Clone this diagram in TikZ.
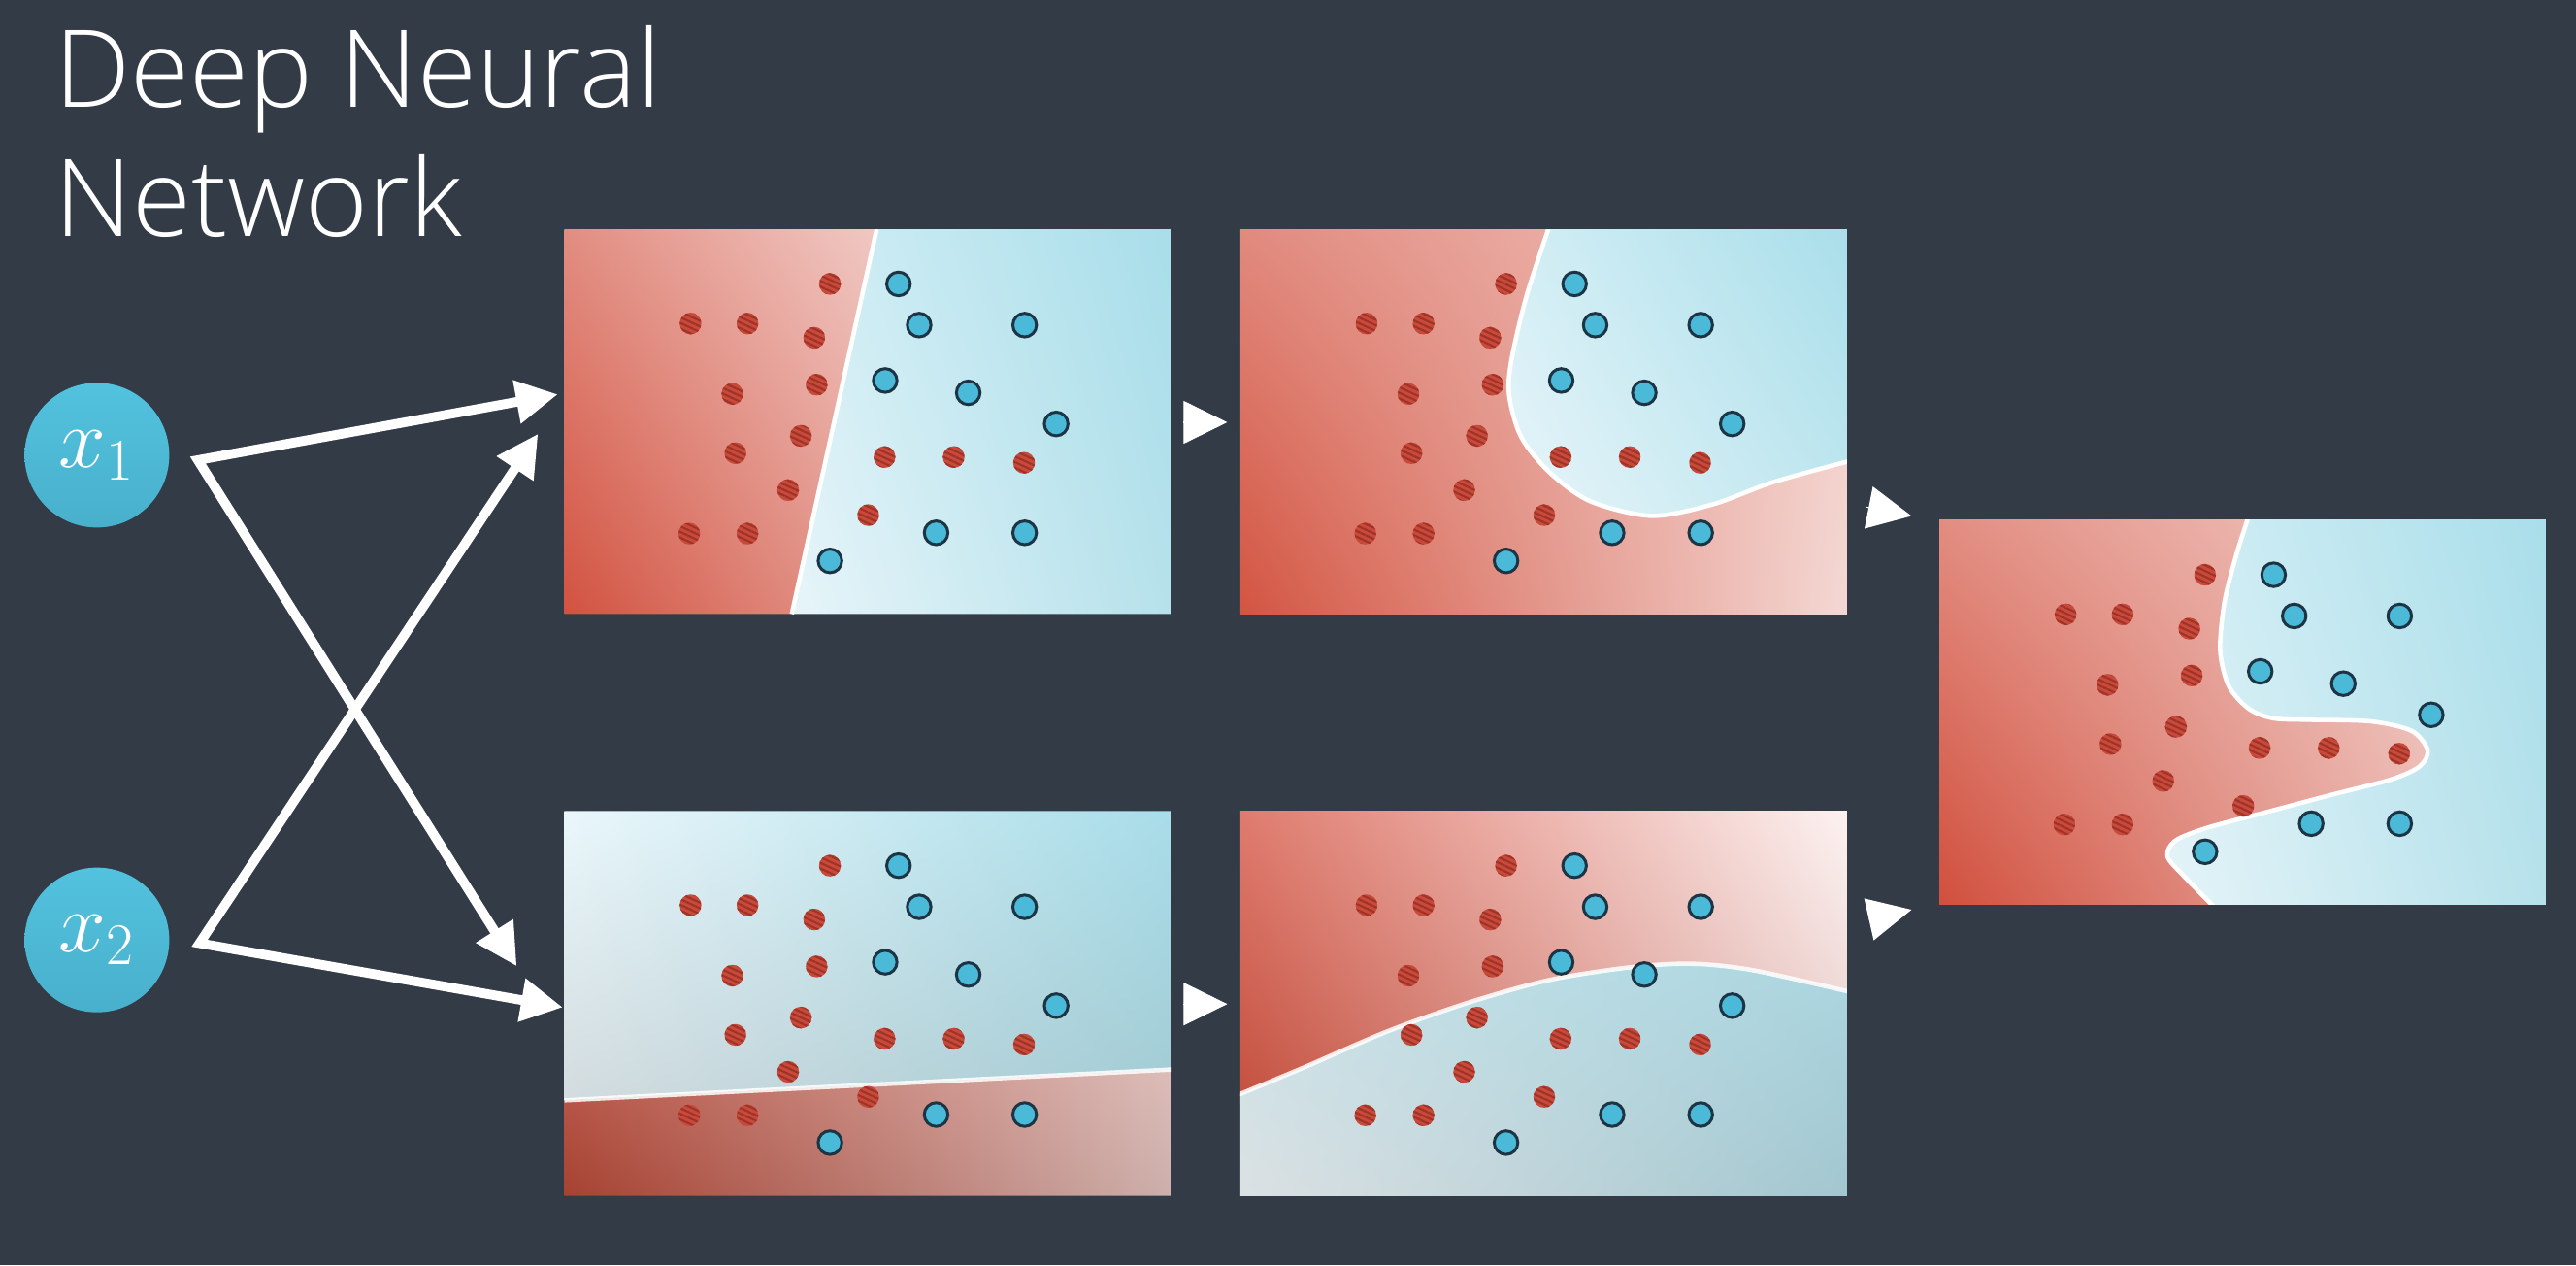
\documentclass[tikz,border=0pt]{standalone}
\usepackage{fontspec}
\usetikzlibrary{arrows.meta,patterns.meta,shadings,positioning}
\newfontfamily\titlefont{Open Sans}[UprightFont={* Light}]

\definecolor{board}{HTML}{323B46}
\definecolor{inputblue}{HTML}{52C2DE}
\definecolor{inputdeep}{HTML}{49B0CC}
\definecolor{dotred}{HTML}{C9493A}
\definecolor{hatchred}{HTML}{9E3328}
\definecolor{dotblue}{HTML}{4BBAD8}
\definecolor{dotrim}{HTML}{1D3444}
% warm and cool fills
\definecolor{warmUL}{HTML}{E28D81}
\definecolor{warmUR}{HTML}{F0C8C3}
\definecolor{warmLL}{HTML}{D25240}
\definecolor{warmLR}{HTML}{E49A90}
\definecolor{coolUL}{HTML}{D3EEF5}
\definecolor{coolUR}{HTML}{A8DEEA}
\definecolor{coolLL}{HTML}{E7F5F9}
\definecolor{coolLR}{HTML}{B6E1EB}

\tikzset{
  panel/.style={minimum width=6.246cm, minimum height=3.961cm, inner sep=0pt},
  inputnode/.style={circle, minimum size=1.49cm, inner sep=0pt, top color=inputblue, bottom color=inputdeep, text=white, font=\fontsize{24}{28}\selectfont},
  titletext/.style={text=white, inner sep=0pt, anchor=base west, font=\titlefont\fontsize{31.5}{38}\selectfont},
  flow/.style={white, line width=2.8pt, {Triangle[length=4.3mm,width=4.3mm]}-{Triangle[length=4.3mm,width=4.3mm]}},
  nextstep/.style={white, line width=0.3pt, -{Triangle[length=4.5mm,width=4.4mm]}},
  reddot/.style={fill=dotred, postaction={pattern={Lines[angle=-25,distance=1.5pt,line width=0.6pt]}, pattern color=hatchred}},
  bluedot/.style={fill=dotblue, draw=dotrim, line width=0.85pt},
  edgeline/.style={white, line width=1.3pt},
}

% the same data set in every panel (panel fractions, y down)
\newcommand{\datapoints}{%
  \fill[reddot] (0.438,0.142) circle[radius=1.12mm];
  \fill[reddot] (0.208,0.245) circle[radius=1.12mm];
  \fill[reddot] (0.302,0.245) circle[radius=1.12mm];
  \fill[reddot] (0.412,0.282) circle[radius=1.12mm];
  \fill[reddot] (0.416,0.404) circle[radius=1.12mm];
  \fill[reddot] (0.277,0.428) circle[radius=1.12mm];
  \fill[reddot] (0.390,0.537) circle[radius=1.12mm];
  \fill[reddot] (0.282,0.582) circle[radius=1.12mm];
  \fill[reddot] (0.528,0.592) circle[radius=1.12mm];
  \fill[reddot] (0.642,0.592) circle[radius=1.12mm];
  \fill[reddot] (0.758,0.607) circle[radius=1.12mm];
  \fill[reddot] (0.369,0.678) circle[radius=1.12mm];
  \fill[reddot] (0.501,0.743) circle[radius=1.12mm];
  \fill[reddot] (0.206,0.791) circle[radius=1.12mm];
  \fill[reddot] (0.302,0.791) circle[radius=1.12mm];
  \filldraw[bluedot] (0.551,0.142) circle[radius=1.22mm];
  \filldraw[bluedot] (0.585,0.249) circle[radius=1.22mm];
  \filldraw[bluedot] (0.759,0.249) circle[radius=1.22mm];
  \filldraw[bluedot] (0.529,0.393) circle[radius=1.22mm];
  \filldraw[bluedot] (0.666,0.425) circle[radius=1.22mm];
  \filldraw[bluedot] (0.811,0.506) circle[radius=1.22mm];
  \filldraw[bluedot] (0.613,0.789) circle[radius=1.22mm];
  \filldraw[bluedot] (0.759,0.789) circle[radius=1.22mm];
  \filldraw[bluedot] (0.438,0.862) circle[radius=1.22mm];
}

\begin{document}
\begin{tikzpicture}[x=0.016926cm, y=-0.016926cm]
	\fill[board] (0,0) rectangle (1568,770);

	\node[titletext] (title) at (33,65) {Deep Neural};
	\node[titletext] (title2) at (33,144) {Network};

	\node[inputnode] (x1) at (59,277) {$x_1$};
	\node[inputnode] (x2) at (59,572) {$x_2$};

	\node[panel] (p1) at (528.5,257) {};
	\node[panel] (p2) at (940,257) {};
	\node[panel] (p3) at (528.5,611) {};
	\node[panel] (p4) at (940,611) {};
	\node[panel] (p5) at (1365.5,434) {};

	% first layer, straight cuts
	\begin{scope}[shift={(p1.north west)}, x=6.246cm, y=-3.961cm]
	\clip (0,0) rectangle (1,1);
	\shade[upper left=warmUL, upper right=warmUR, lower left=warmLL, lower right=warmLR] (0,0) -- (0.515,0) -- (0.375,1) -- (0,1) -- cycle;
	\shade[upper left=coolUL, upper right=coolUR, lower left=coolLL, lower right=coolLR] (0.515,0) -- (1,0) -- (1,1) -- (0.375,1) -- cycle;
	\draw[edgeline] (0.515,0) -- (0.375,1);
	\datapoints
	\end{scope}

	\begin{scope}[shift={(p3.north west)}, x=6.246cm, y=-3.961cm]
	\clip (0,0) rectangle (1,1);
	\shade[upper left={rgb,255:red,234;green,247;blue,251}, upper right={rgb,255:red,168;green,221;blue,233}, lower left={rgb,255:red,211;green,220;blue,223}, lower right={rgb,255:red,163;green,203;blue,212}] (0,0) -- (1,0) -- (1,0.672) -- (0,0.752) -- cycle;
	\shade[upper left={rgb,255:red,187;green,90;blue,76}, upper right={rgb,255:red,220;green,189;blue,185}, lower left={rgb,255:red,166;green,66;blue,50}, lower right={rgb,255:red,205;green,175;blue,171}] (0,0.752) -- (1,0.672) -- (1,1) -- (0,1) -- cycle;
	\draw[edgeline, opacity=0.85] (0,0.752) -- (1,0.672);
	\datapoints
	\end{scope}

	% second layer, bent cuts
	\begin{scope}[shift={(p2.north west)}, x=6.246cm, y=-3.961cm]
	\clip (0,0) rectangle (1,1);
	\shade[upper left={rgb,255:red,225;green,138;blue,126}, upper right={rgb,255:red,242;green,203;blue,197}, lower left={rgb,255:red,211;green,84;blue,65}, lower right={rgb,255:red,244;green,216;blue,212}] (0,0) rectangle (1,1);
	\shade[upper left=coolUL, upper right=coolUR, lower left=coolLL, lower right={rgb,255:red,191;green,230;blue,239}] plot[smooth] coordinates {(0.512,-0.02) (0.472,0.172) (0.447,0.339) (0.443,0.431) (0.463,0.540) (0.510,0.632) (0.577,0.707) (0.678,0.745) (0.779,0.715) (0.879,0.657) (1.01,0.600)} -- (1.01,-0.02) -- cycle;
	\draw[edgeline] plot[smooth] coordinates {(0.512,-0.02) (0.472,0.172) (0.447,0.339) (0.443,0.431) (0.463,0.540) (0.510,0.632) (0.577,0.707) (0.678,0.745) (0.779,0.715) (0.879,0.657) (1.01,0.600)};
	\datapoints
	\end{scope}

	\begin{scope}[shift={(p4.north west)}, x=6.246cm, y=-3.961cm]
	\clip (0,0) rectangle (1,1);
	\shade[upper left={rgb,255:red,223;green,123;blue,110}, upper right={rgb,255:red,252;green,242;blue,241}, lower left={rgb,255:red,196;green,80;blue,63}, lower right={rgb,255:red,232;green,205;blue,202}] (0,0) rectangle (1,0.76);
	\shade[upper left={rgb,255:red,201;green,227;blue,233}, upper right={rgb,255:red,171;green,214;blue,224}, lower left={rgb,255:red,220;green,225;blue,227}, lower right={rgb,255:red,162;green,198;blue,207}] plot[smooth] coordinates {(-0.01,0.742) (0.107,0.665) (0.242,0.573) (0.376,0.498) (0.510,0.439) (0.644,0.406) (0.745,0.397) (0.846,0.414) (1.01,0.472)} -- (1.01,1.01) -- (-0.01,1.01) -- cycle;
	\draw[edgeline, opacity=0.85] plot[smooth] coordinates {(-0.01,0.742) (0.107,0.665) (0.242,0.573) (0.376,0.498) (0.510,0.439) (0.644,0.406) (0.745,0.397) (0.846,0.414) (1.01,0.472)};
	\datapoints
	\end{scope}

	% output layer
	\begin{scope}[shift={(p5.north west)}, x=6.246cm, y=-3.961cm]
	\clip (0,0) rectangle (1,1);
	\shade[upper left=warmUL, upper right={rgb,255:red,241;green,204;blue,199}, lower left={rgb,255:red,209;green,79;blue,61}, lower right={rgb,255:red,235;green,185;blue,178}] (0,0) rectangle (0.82,1);
	\shade[upper left=coolUL, upper right=coolUR, lower left={rgb,255:red,229;green,244;blue,248}, lower right=coolLR] plot[smooth] coordinates {(0.512,-0.02) (0.490,0.088) (0.470,0.213) (0.463,0.339) (0.477,0.431) (0.510,0.490) (0.550,0.515) (0.611,0.519) (0.711,0.523) (0.779,0.548) (0.805,0.598) (0.792,0.640) (0.745,0.674) (0.644,0.715) (0.544,0.757) (0.443,0.799) (0.389,0.833) (0.376,0.874) (0.403,0.925) (0.462,1.02)} -- (1.01,1.02) -- (1.01,-0.02) -- cycle;
	\draw[edgeline] plot[smooth] coordinates {(0.512,-0.02) (0.490,0.088) (0.470,0.213) (0.463,0.339) (0.477,0.431) (0.510,0.490) (0.550,0.515) (0.611,0.519) (0.711,0.523) (0.779,0.548) (0.805,0.598) (0.792,0.640) (0.745,0.674) (0.644,0.715) (0.544,0.757) (0.443,0.799) (0.389,0.833) (0.376,0.874) (0.403,0.925) (0.462,1.02)};
	\datapoints
	\end{scope}

	% inputs into the first layer
	\coordinate (j1) at ([shift={(17,3)}]x1.east);
	\coordinate (j2) at ([shift={(18,2)}]x2.east);
	\draw[flow] ([shift={(-4,-17)}]p1.west) -- (j1) -- ([shift={(-29,-23)}]p3.west);
	\draw[flow] ([shift={(-16,7)}]p1.west) -- (j2) -- ([shift={(-1,2)}]p3.west);

	% layer to layer
	\draw[nextstep] ([shift={(-35,0)}]p2.west) -- ([shift={(-8,0)}]p2.west);
	\draw[nextstep] ([shift={(-35,0)}]p4.west) -- ([shift={(-8,0)}]p4.west);
	\draw[nextstep] ([shift={(-45,-125.5)}]p5.west) -- ([shift={(-17,-120)}]p5.west);
	\draw[nextstep] ([shift={(-43,125.5)}]p5.west) -- ([shift={(-17,119.6)}]p5.west);
\end{tikzpicture}
\end{document}
